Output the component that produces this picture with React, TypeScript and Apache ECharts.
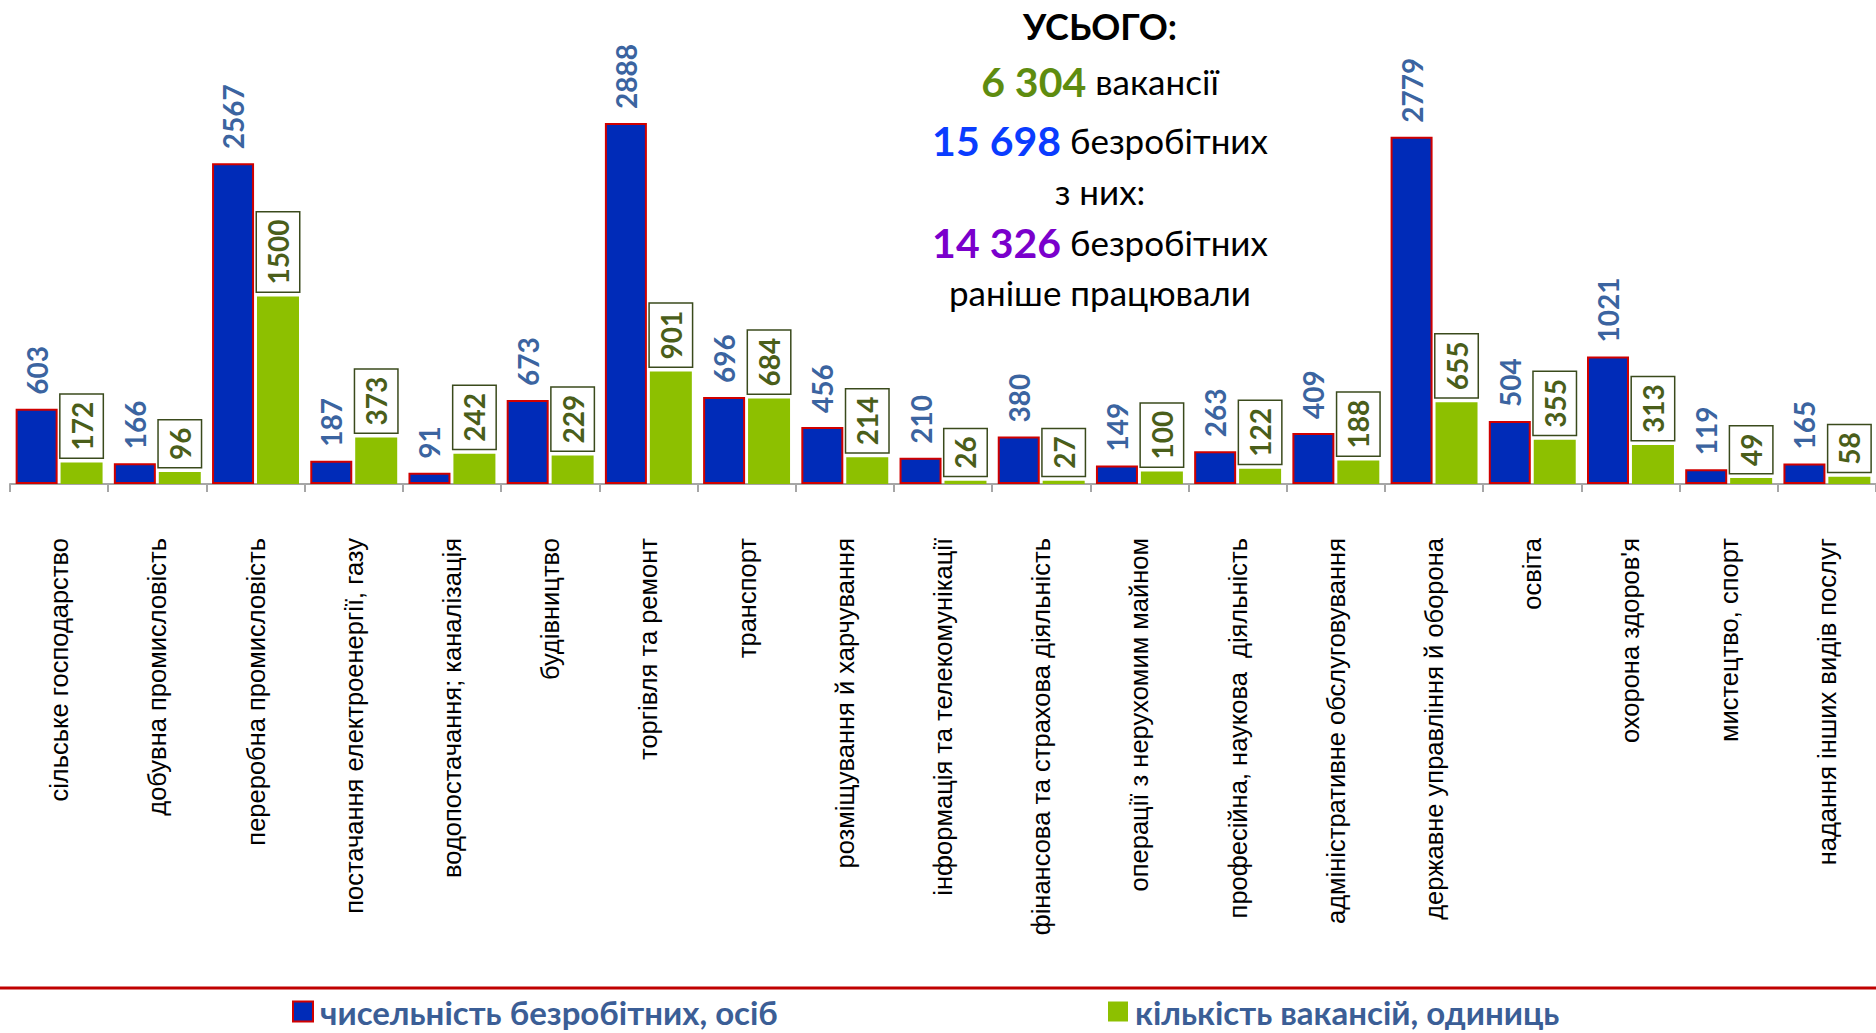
import React, { useEffect, useRef } from "react";
import * as echarts from "echarts";

const categories = [
  "сільське господарство",
  "добувна промисловість",
  "переробна промисловість",
  "постачання електроенергії, газу",
  "водопостачання; каналізація",
  "будівництво",
  "торгівля та ремонт",
  "транспорт",
  "розміщування й харчування",
  "інформація та телекомунікації",
  "фінансова та страхова діяльність",
  "операції з нерухомим майном",
  "професійна, наукова  діяльність",
  "адміністративне обслуговування",
  "державне управління й оборона",
  "освіта",
  "охорона здоров'я",
  "мистецтво, спорт",
  "надання інших видів послуг",
];

const unemployed = [603, 166, 2567, 187, 91, 673, 2888, 696, 456, 210, 380, 149, 263, 409, 2779, 504, 1021, 119, 165];
const vacancies = [172, 96, 1500, 373, 242, 229, 901, 684, 214, 26, 27, 100, 122, 188, 655, 355, 313, 49, 58];

const seriesNames = ["чисельність безробітних, осіб", "кількість вакансій, одиниць"];

const totalVacancies = "6 304";
const totalUnemployed = "15 698";
const totalWorkedBefore = "14 326";

const FONT = "Lato, 'Open Sans', sans-serif";

export default function App() {
  const ref = useRef<HTMLDivElement>(null);
  useEffect(() => {
    if (!ref.current) return;
    const chart = echarts.init(ref.current, undefined, { renderer: "svg" });
    const cx = 1100;
    const numRich = (color: string) => ({
      fontFamily: FONT,
      fontWeight: "bold" as const,
      fontSize: 41,
      fill: color,
    });
    const txtRich = { fontFamily: FONT, fontSize: 35, fill: "#000" };
    const legendText = {
      color: "#3B5E96",
      fontFamily: FONT,
      fontWeight: "bold" as const,
      fontSize: 33,
      padding: [0, 0, 0, 2],
    };
    chart.setOption({
      animation: false,
      backgroundColor: "#fff",
      grid: { left: 10, right: -6, top: 109, bottom: 549 },
      xAxis: {
        type: "category",
        data: categories,
        axisLine: { lineStyle: { color: "#A6A6A6", width: 2 } },
        axisTick: { show: true, length: 8, lineStyle: { color: "#A6A6A6", width: 2 } },
        axisLabel: {
          rotate: 90,
          interval: 0,
          margin: 54,
          color: "#000",
          fontFamily: "'Liberation Sans', Arial, sans-serif",
          fontSize: 25.5,
        },
      },
      yAxis: { type: "value", min: 0, max: 3000, show: false, splitLine: { show: false } },
      legend: [
        {
          data: [{ name: seriesNames[0], icon: "rect" }],
          left: 287,
          top: 990,
          itemWidth: 20,
          itemHeight: 20,
          itemGap: 0,
          textStyle: legendText,
        },
        {
          data: [{ name: seriesNames[1], icon: "rect" }],
          left: 1103,
          top: 990,
          itemWidth: 20,
          itemHeight: 20,
          itemGap: 0,
          textStyle: legendText,
        },
      ],
      series: [
        {
          name: seriesNames[0],
          type: "bar",
          data: unemployed,
          barWidth: 42,
          barGap: "7%",
          itemStyle: { color: "#002BB8", borderColor: "#D00000", borderWidth: 2 },
          label: {
            show: true,
            position: "top",
            rotate: 90,
            align: "left",
            verticalAlign: "middle",
            distance: 14,
            color: "#3B64A0",
            fontFamily: FONT,
            fontWeight: "bold",
            fontSize: 28,
          },
        },
        {
          name: seriesNames[1],
          type: "bar",
          data: vacancies,
          barWidth: 42,
          itemStyle: { color: "#8DC000" },
          label: {
            show: true,
            position: "top",
            rotate: 90,
            align: "left",
            verticalAlign: "middle",
            distance: 5,
            color: "#4A5E1A",
            fontFamily: FONT,
            fontWeight: "bold",
            fontSize: 28,
            lineHeight: 30,
            backgroundColor: "#fff",
            borderColor: "#3A4A1C",
            borderWidth: 1.5,
            padding: [6, 7, 6, 7],
          },
        },
      ],
      graphic: [
        {
          type: "line",
          shape: { x1: 0, y1: 988, x2: 1876, y2: 988 },
          style: { stroke: "#C00000", lineWidth: 3 },
        },
        {
          type: "text",
          x: cx,
          y: 26,
          style: {
            text: "УСЬОГО:",
            align: "center",
            verticalAlign: "middle",
            fontFamily: FONT,
            fontWeight: "bold",
            fontSize: 36,
            fill: "#000",
          },
        },
        {
          type: "text",
          x: cx,
          y: 81,
          style: {
            text: "{n|" + totalVacancies + "}{t| вакансії}",
            align: "center",
            verticalAlign: "middle",
            rich: { n: numRich("#5E8C10"), t: txtRich },
          },
        },
        {
          type: "text",
          x: cx,
          y: 140,
          style: {
            text: "{n|" + totalUnemployed + "}{t| безробітних}",
            align: "center",
            verticalAlign: "middle",
            rich: { n: numRich("#0A3CFF"), t: txtRich },
          },
        },
        {
          type: "text",
          x: cx,
          y: 191,
          style: {
            text: "з них:",
            align: "center",
            verticalAlign: "middle",
            fontFamily: FONT,
            fontSize: 35,
            fill: "#000",
          },
        },
        {
          type: "text",
          x: cx,
          y: 242,
          style: {
            text: "{n|" + totalWorkedBefore + "}{t| безробітних}",
            align: "center",
            verticalAlign: "middle",
            rich: { n: numRich("#7A00CC"), t: txtRich },
          },
        },
        {
          type: "text",
          x: cx,
          y: 292,
          style: {
            text: "раніше працювали",
            align: "center",
            verticalAlign: "middle",
            fontFamily: FONT,
            fontSize: 35,
            fill: "#000",
          },
        },
      ],
    });
    return () => chart.dispose();
  }, []);
  return (
    <div
      ref={ref}
      style={{ position: "fixed", left: 0, top: 0, width: 1876, height: 1033 }}
    />
  );
}
